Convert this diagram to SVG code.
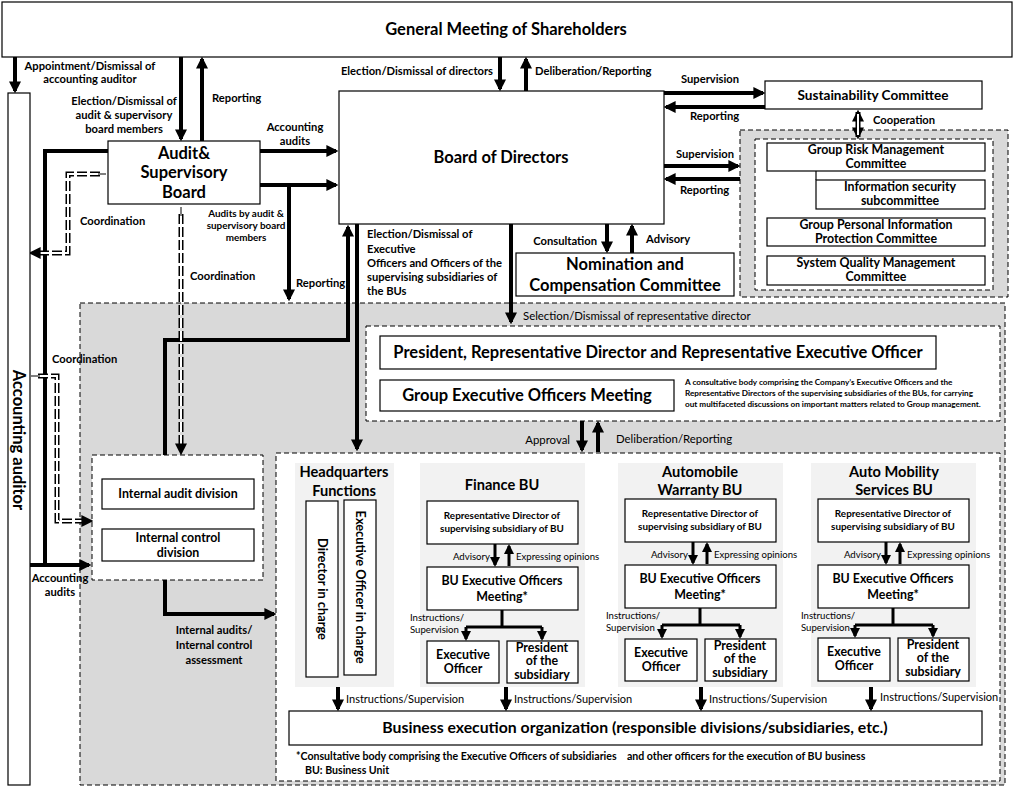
<svg xmlns="http://www.w3.org/2000/svg" width="1017" height="791" viewBox="0 0 1017 791">
<style>
text{font-family:Lato,"Liberation Sans",sans-serif;fill:#000}
.big{font-size:16.5px;font-weight:bold}
.med{font-size:14.6px;font-weight:bold}
.cm{font-size:12.4px;font-weight:bold}
.lb{font-size:11.2px;font-weight:bold}
.sm{font-size:9.9px;font-weight:bold}
.th{font-size:9.6px}
.th2{font-size:11px}
.rg{font-size:11.4px}
.ds{font-size:8.2px;font-weight:bold}
.m{text-anchor:middle}
.e{text-anchor:end}
.box{fill:#fff;stroke:#000;stroke-width:1.2}
.dash{stroke:#000;stroke-width:1;stroke-dasharray:5 3}
.ar{fill:none;stroke:#000;stroke-width:4;marker-end:url(#ah)}
.ln{fill:none;stroke:#000;stroke-width:4}
.ar2{fill:none;stroke:#000;stroke-width:3;marker-end:url(#ah2)}
.ln2{fill:none;stroke:#000;stroke-width:3}
.dd{fill:none;stroke:#000;stroke-width:5;stroke-dasharray:10 3}
.ddw{fill:none;stroke:#fff;stroke-width:2;stroke-dasharray:10 3}
</style>
<defs>
<marker id="ah" viewBox="0 0 10 10" refX="8" refY="5" markerWidth="12" markerHeight="12" markerUnits="userSpaceOnUse" orient="auto"><path d="M0,0 L10,5 L0,10 z"/></marker>
<marker id="ah2" viewBox="0 0 10 10" refX="8" refY="5" markerWidth="10" markerHeight="10" markerUnits="userSpaceOnUse" orient="auto"><path d="M0,0 L10,5 L0,10 z"/></marker>
<marker id="ahs" viewBox="0 0 10 10" refX="8" refY="5" markerWidth="12" markerHeight="12" markerUnits="userSpaceOnUse" orient="auto-start-reverse"><path d="M0,0 L10,5 L0,10 z"/></marker>
</defs>
<rect width="1017" height="791" fill="#fff"/>

<!-- background regions -->
<g id="execution-area">
<rect x="80" y="303" width="925" height="482" fill="#d9d9d9" class="dash"/>
</g>
<g id="committee-area">
<rect x="740" y="130" width="268" height="167" fill="#d9d9d9" class="dash"/>
<rect x="755" y="139" width="238" height="151" fill="#fff" class="dash"/>
</g>
<g id="president-area">
<rect x="366" y="326" width="634" height="95" fill="#fff" class="dash"/>
</g>
<g id="audit-area">
<rect x="92" y="455" width="171" height="125" fill="#fff" class="dash"/>
</g>
<g id="business-area">
<rect x="276" y="453" width="724" height="328" fill="#fff" class="dash"/>
<rect x="295" y="463" width="99" height="224" fill="#f2f2f2"/>
<rect x="420" y="463" width="165" height="224" fill="#f2f2f2"/>
<rect x="618" y="463" width="165" height="224" fill="#f2f2f2"/>
<rect x="811" y="463" width="165" height="224" fill="#f2f2f2"/>
</g>

<!-- connectors -->
<g id="connectors">
<path class="ar" d="M15,57 V91"/>
<path class="ar" d="M181,57 V139"/>
<path class="ar" d="M202,141 V59"/>
<path class="ar" d="M500,57 V89"/>
<path class="ar" d="M526,91 V59"/>
<path class="ln" d="M30,565 H45 V151 H108"/>
<path class="ar" d="M45,565 H89"/>
<path class="ar" d="M260,151 H336"/>
<path class="ar" d="M260,185 H336"/>
<path class="ar" d="M289,185 V299"/>
<path class="ar" d="M165,455 V340 H348 V227"/>
<path class="ar" d="M357,224 V449"/>
<path class="ar" d="M511,224 V322"/>
<path class="ar" d="M607,224 V251"/>
<path class="ar" d="M632,253 V226"/>
<path class="ar" d="M664,93 H763"/>
<path class="ar" d="M765,107 H666"/>
<path class="ar" d="M664,166 H738"/>
<path class="ar" d="M740,179 H666"/>
<path class="ar" d="M582,421 V450"/>
<path class="ar" d="M598,452 V423"/>
<path class="ar" d="M165,580 V614 H274"/>
<!-- cooperation -->
<path d="M858,112 V137" fill="none" stroke="#000" stroke-width="5" marker-start="url(#ahs)" marker-end="url(#ahs)"/>
<path d="M858,114 V135" fill="none" stroke="#fff" stroke-width="2"/>
<!-- coordination double dashed -->
<path class="dd" d="M100,174 H68 V253 H36"/>
<path class="ddw" d="M100,174 H68 V253 H36"/>
<path d="M98,174 H106 M38,253 H31" fill="none" stroke="#000" stroke-width="1" marker-end="url(#ahs)"/>
<path class="dd" d="M181,214 V446"/>
<path class="ddw" d="M181,214 V446"/>
<path d="M181,216 V207 M181,444 V453" fill="none" stroke="#000" stroke-width="1" marker-end="url(#ahs)"/>
<path class="dd" d="M38,376 H57 V521 H84"/>
<path class="ddw" d="M38,376 H57 V521 H84"/>
<path d="M40,376 H31 M82,521 H91" fill="none" stroke="#000" stroke-width="1" marker-end="url(#ahs)"/>
<!-- BU arrows: Finance -->
<path class="ar2" d="M495,544 V565"/>
<path class="ar2" d="M509,566 V546"/>
<path class="ln2" d="M502,610 V627 M466,627 H542"/>
<path class="ar2" d="M466,627 V639"/>
<path class="ar2" d="M542,627 V639"/>
<!-- Automobile Warranty -->
<path class="ar2" d="M693,542 V563"/>
<path class="ar2" d="M707,564 V544"/>
<path class="ln2" d="M700,608 V625 M662,625 H740"/>
<path class="ar2" d="M662,625 V637"/>
<path class="ar2" d="M740,625 V637"/>
<!-- Auto Mobility -->
<path class="ar2" d="M886,542 V563"/>
<path class="ar2" d="M900,564 V544"/>
<path class="ln2" d="M893,608 V625 M855,625 H933"/>
<path class="ar2" d="M855,625 V636"/>
<path class="ar2" d="M933,625 V636"/>
<!-- instructions to business execution -->
<path class="ar" d="M338,687 V709"/>
<path class="ar" d="M506,687 V709"/>
<path class="ar" d="M701,687 V709"/>
<path class="ar" d="M871,687 V709"/>
</g>

<!-- connector labels -->
<g id="labels">
<text class="lb m" x="90" y="70">Appointment/Dismissal of</text>
<text class="lb m" x="90" y="83">accounting auditor</text>
<text class="lb m" x="124" y="105">Election/Dismissal of</text>
<text class="lb m" x="124" y="119">audit &amp; supervisory</text>
<text class="lb m" x="124" y="133">board members</text>
<text class="lb" x="212" y="102">Reporting</text>
<text class="lb m" x="295" y="131">Accounting</text>
<text class="lb m" x="295" y="145">audits</text>
<text class="sm m" x="246" y="217">Audits by audit &amp;</text>
<text class="sm m" x="246" y="229">supervisory board</text>
<text class="sm m" x="246" y="241">members</text>
<text class="lb" x="296" y="287">Reporting</text>
<text class="lb" x="80" y="225">Coordination</text>
<text class="lb" x="190" y="280">Coordination</text>
<text class="lb" x="52" y="363">Coordination</text>
<text class="lb e" x="493" y="75">Election/Dismissal of directors</text>
<text class="lb" x="535" y="75">Deliberation/Reporting</text>
<text class="lb" x="367" y="238">Election/Dismissal of</text>
<text class="lb" x="367" y="253">Executive</text>
<text class="lb" x="367" y="267">Officers and Officers of the</text>
<text class="lb" x="367" y="281">supervising subsidiaries of</text>
<text class="lb" x="367" y="295">the BUs</text>
<text class="lb e" x="597" y="245">Consultation</text>
<text class="lb" x="646" y="243">Advisory</text>
<text class="lb" x="681" y="83">Supervision</text>
<text class="lb" x="690" y="120">Reporting</text>
<text class="lb" x="676" y="158">Supervision</text>
<text class="lb" x="680" y="194">Reporting</text>
<text class="lb" x="873" y="124">Cooperation</text>
<text class="rg" x="523" y="320">Selection/Dismissal of representative director</text>
<text class="rg e" x="570" y="444">Approval</text>
<text class="rg" x="616" y="443">Deliberation/Reporting</text>
<text class="lb m" x="60" y="582">Accounting</text>
<text class="lb m" x="60" y="596">audits</text>
<text class="lb m" x="214" y="634">Internal audits/</text>
<text class="lb m" x="214" y="649">Internal control</text>
<text class="lb m" x="214" y="664">assessment</text>
<text class="th e" x="490" y="560">Advisory</text>
<text class="th" x="516" y="560">Expressing opinions</text>
<text class="th" x="410" y="621">Instructions/</text>
<text class="th" x="410" y="633">Supervision</text>
<text class="th e" x="688" y="558">Advisory</text>
<text class="th" x="714" y="558">Expressing opinions</text>
<text class="th" x="606" y="619">Instructions/</text>
<text class="th" x="606" y="631">Supervision</text>
<text class="th e" x="881" y="558">Advisory</text>
<text class="th" x="907" y="558">Expressing opinions</text>
<text class="th" x="801" y="619">Instructions/</text>
<text class="th" x="801" y="631">Supervision</text>
<text class="th2" x="346" y="703">Instructions/Supervision</text>
<text class="th2" x="514" y="703">Instructions/Supervision</text>
<text class="th2" x="709" y="703">Instructions/Supervision</text>
<text class="th2" x="880" y="701">Instructions/Supervision</text>
</g>

<!-- nodes -->
<g id="gms"><rect class="box" x="2" y="2" width="1010" height="55"/><text class="big m" x="506" y="35">General Meeting of Shareholders</text></g>
<g id="accounting-auditor"><rect class="box" x="8" y="93" width="22" height="692"/><text class="big m" transform="rotate(90 19 440)" x="19" y="446">Accounting auditor</text></g>
<g id="audit-board"><rect class="box" x="108" y="141" width="152" height="63"/>
<text class="big m" x="184" y="159">Audit&amp;</text>
<text class="big m" x="184" y="178">Supervisory</text>
<text class="big m" x="184" y="198">Board</text></g>
<g id="board"><rect class="box" x="339" y="91" width="325" height="133"/><text class="big m" x="501" y="163">Board of Directors</text></g>
<g id="nomination"><rect class="box" x="516" y="253" width="218" height="43"/>
<text class="big m" x="625" y="270">Nomination and</text><text class="big m" x="625" y="291">Compensation Committee</text></g>
<g id="sustainability"><rect class="box" x="765" y="81" width="217" height="28"/><text class="cm m" x="873" y="100" style="font-size:13.6px">Sustainability Committee</text></g>
<g id="group-risk"><rect class="box" x="767" y="143" width="218" height="28"/><text class="cm m" x="876" y="154">Group Risk Management</text><text class="cm m" x="876" y="168">Committee</text></g>
<g id="info-security"><rect class="box" x="816" y="180" width="169" height="29"/><path d="M816,171 V180" stroke="#000" stroke-width="1.2"/><text class="cm m" x="900" y="191">Information security</text><text class="cm m" x="900" y="205">subcommittee</text></g>
<g id="personal-info"><rect class="box" x="767" y="218" width="218" height="28"/><text class="cm m" x="876" y="229">Group Personal Information</text><text class="cm m" x="876" y="243">Protection Committee</text></g>
<g id="system-quality"><rect class="box" x="767" y="256" width="218" height="29"/><text class="cm m" x="876" y="267">System Quality Management</text><text class="cm m" x="876" y="281">Committee</text></g>
<g id="president"><rect class="box" x="380" y="336" width="556" height="33"/><text class="big m" x="658" y="358">President, Representative Director and Representative Executive Officer</text></g>
<g id="group-exec"><rect class="box" x="380" y="380" width="294" height="31"/><text class="big m" x="527" y="401">Group Executive Officers Meeting</text>
<text class="ds" x="685" y="385">A consultative body comprising the Company’s Executive Officers and the</text>
<text class="ds" x="685" y="396">Representative Directors of the supervising subsidiaries of the BUs, for carrying</text>
<text class="ds" x="685" y="407">out multifaceted discussions on important matters related to Group management.</text></g>
<g id="internal-audit"><rect class="box" x="102" y="479" width="152" height="30"/><text class="cm m" x="178" y="498">Internal audit division</text></g>
<g id="internal-control"><rect class="box" x="102" y="529" width="152" height="32"/><text class="cm m" x="178" y="542">Internal control</text><text class="cm m" x="178" y="557">division</text></g>
<g id="hq"><text class="med m" x="344" y="477">Headquarters</text><text class="med m" x="344" y="496">Functions</text>
<rect class="box" x="306" y="501" width="32" height="176"/><text class="cm m" transform="rotate(90 322 589)" x="322" y="593" style="font-size:12.8px">Director in charge</text>
<rect class="box" x="344" y="500" width="32" height="175"/><text class="cm m" transform="rotate(90 360 587)" x="360" y="591" style="font-size:12.8px">Executive Officer in charge</text></g>
<g id="finance-bu"><text class="med m" x="502" y="490">Finance BU</text>
<rect class="box" x="427" y="501" width="151" height="43"/><text class="sm m" x="502" y="519">Representative Director of</text><text class="sm m" x="502" y="532">supervising subsidiary of BU</text>
<rect class="box" x="427" y="567" width="151" height="43"/><text class="cm m" x="502" y="585">BU Executive Officers</text><text class="cm m" x="502" y="601">Meeting*</text>
<rect class="box" x="427" y="641" width="72" height="42"/><text class="cm m" x="463" y="659">Executive</text><text class="cm m" x="463" y="673">Officer</text>
<rect class="box" x="507" y="641" width="71" height="42"/><text class="cm m" x="542" y="652">President</text><text class="cm m" x="542" y="665">of the</text><text class="cm m" x="542" y="679">subsidiary</text></g>
<g id="warranty-bu"><text class="med m" x="700" y="477">Automobile</text><text class="med m" x="700" y="495">Warranty BU</text>
<rect class="box" x="625" y="499" width="151" height="43"/><text class="sm m" x="700" y="517">Representative Director of</text><text class="sm m" x="700" y="530">supervising subsidiary of BU</text>
<rect class="box" x="625" y="565" width="151" height="43"/><text class="cm m" x="700" y="583">BU Executive Officers</text><text class="cm m" x="700" y="599">Meeting*</text>
<rect class="box" x="625" y="639" width="72" height="42"/><text class="cm m" x="661" y="657">Executive</text><text class="cm m" x="661" y="671">Officer</text>
<rect class="box" x="705" y="639" width="71" height="42"/><text class="cm m" x="740" y="650">President</text><text class="cm m" x="740" y="663">of the</text><text class="cm m" x="740" y="677">subsidiary</text></g>
<g id="mobility-bu"><text class="med m" x="894" y="477">Auto Mobility</text><text class="med m" x="894" y="495">Services BU</text>
<rect class="box" x="818" y="499" width="151" height="43"/><text class="sm m" x="893" y="517">Representative Director of</text><text class="sm m" x="893" y="530">supervising subsidiary of BU</text>
<rect class="box" x="818" y="565" width="151" height="43"/><text class="cm m" x="893" y="583">BU Executive Officers</text><text class="cm m" x="893" y="599">Meeting*</text>
<rect class="box" x="818" y="638" width="72" height="43"/><text class="cm m" x="854" y="656">Executive</text><text class="cm m" x="854" y="670">Officer</text>
<rect class="box" x="898" y="638" width="71" height="43"/><text class="cm m" x="933" y="649">President</text><text class="cm m" x="933" y="662">of the</text><text class="cm m" x="933" y="676">subsidiary</text></g>
<g id="business-exec"><rect class="box" x="289" y="711" width="693" height="34"/><text class="big m" x="635" y="733" style="font-size:15.8px">Business execution organization (responsible divisions/subsidiaries, etc.)</text></g>
<g id="footnote"><text class="sm" x="296" y="760" xml:space="preserve" style="font-size:10.6px;white-space:pre">*Consultative body comprising the Executive Officers of subsidiaries    and other officers for the execution of BU business</text>
<text class="sm" x="305" y="774" style="font-size:10.6px">BU: Business Unit</text></g>
</svg>
